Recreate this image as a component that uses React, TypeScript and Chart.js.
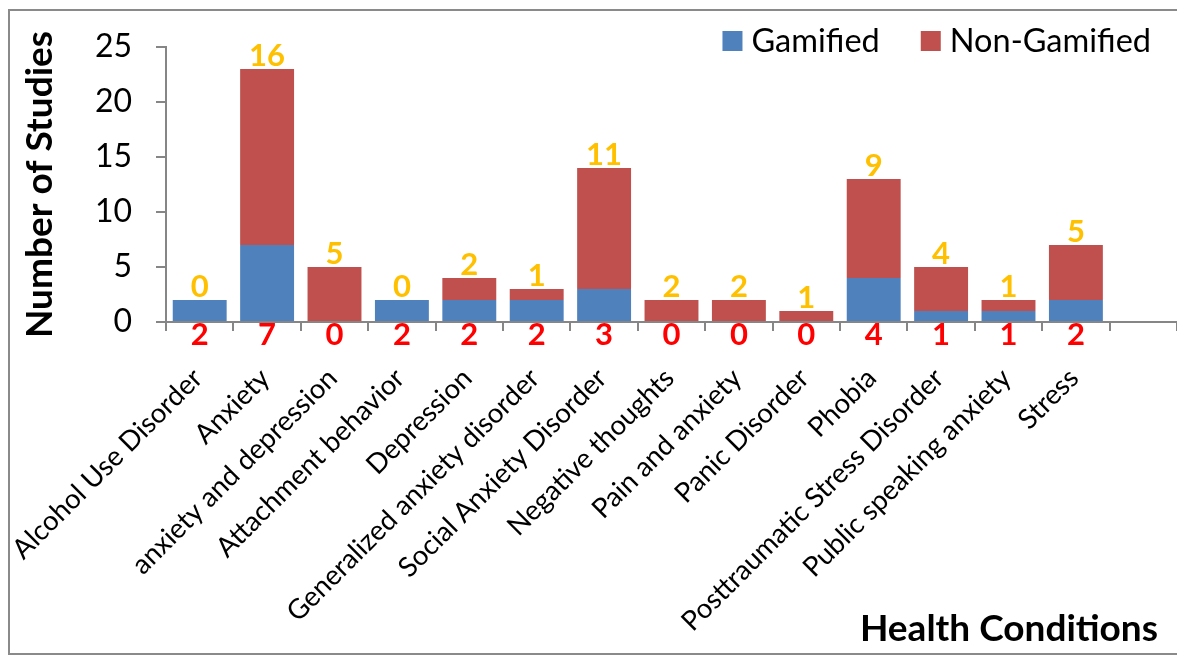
import React, { useEffect, useRef } from "react";
import { Chart, registerables } from "chart.js";

Chart.register(...registerables);

const categories: string[] = [
  "Alcohol Use Disorder",
  "Anxiety",
  "anxiety and depression",
  "Attachment behavior",
  "Depression",
  "Generalized anxiety disorder",
  "Social Anxiety Disorder",
  "Negative thoughts",
  "Pain and anxiety",
  "Panic Disorder",
  "Phobia",
  "Posttraumatic Stress Disorder",
  "Public speaking anxiety",
  "Stress",
  "",
];
const gamified: (number | null)[] = [2, 7, 0, 2, 2, 2, 3, 0, 0, 0, 4, 1, 1, 2, null];
const nonGamified: (number | null)[] = [0, 16, 5, 0, 2, 1, 11, 2, 2, 1, 9, 4, 1, 5, null];
const yTicks: number[] = [0, 5, 10, 15, 20, 25];

const seriesNames = ["Gamified", "Non-Gamified"];
const seriesColors = ["#4F81BD", "#C0504D"];
const FONT = "Lato, 'DejaVu Sans', sans-serif";
const AXIS_GRAY = "#868686";

const overlayPlugin = {
  id: "overlay",
  beforeDraw(chart: any) {
    const ctx = chart.ctx;
    ctx.save();
    ctx.fillStyle = "#ffffff";
    ctx.fillRect(0, 0, chart.width, chart.height);
    ctx.strokeStyle = "#8a8a8a";
    ctx.lineWidth = 2;
    ctx.strokeRect(9, 10, chart.width + 20, chart.height - 12);
    ctx.restore();
  },
  afterDatasetsDraw(chart: any) {
    const ctx = chart.ctx;
    const xs = chart.scales.x;
    const ys = chart.scales.y;
    ctx.save();
    ctx.font = `bold 31px ${FONT}`;
    ctx.textAlign = "center";
    ctx.textBaseline = "alphabetic";
    categories.forEach((c, i) => {
      if (!c) return;
      const g = gamified[i] ?? 0;
      const n = nonGamified[i] ?? 0;
      const cx = xs.getPixelForValue(i);
      ctx.fillStyle = "#FFC000";
      ctx.fillText(String(n), cx, ys.getPixelForValue(g + n) - 3);
      ctx.fillStyle = "#FF0000";
      ctx.fillText(String(g), cx, ys.getPixelForValue(0) + 23);
    });

    // legend (overlaid, Excel style)
    ctx.font = `32.5px ${FONT}`;
    ctx.textAlign = "left";
    ctx.textBaseline = "middle";
    const box = 20;
    const gapText = 9;
    const gapItem = 41;
    const widths = seriesNames.map((s) => ctx.measureText(s).width);
    const total = widths.reduce((a, w) => a + box + gapText + w, 0) + gapItem * (seriesNames.length - 1);
    let x = 1151 - total;
    const ly = 41;
    seriesNames.forEach((s, i) => {
      ctx.fillStyle = seriesColors[i];
      ctx.fillRect(x, ly - box / 2, box, box);
      ctx.fillStyle = "#000000";
      ctx.fillText(s, x + box + gapText, ly + 1);
      x += box + gapText + widths[i] + gapItem;
    });

    // x axis title
    ctx.font = `bold 37px ${FONT}`;
    ctx.textAlign = "right";
    ctx.textBaseline = "alphabetic";
    ctx.fillStyle = "#000000";
    ctx.fillText("Health Conditions", 1158, 641);
    ctx.restore();
  },
};

export default function App() {
  const ref = useRef<HTMLCanvasElement | null>(null);
  useEffect(() => {
    document.body.style.margin = "0";
    if (!ref.current) return;
    const chart = new Chart(ref.current, {
      type: "bar",
      data: {
        labels: categories,
        datasets: [
          {
            label: seriesNames[0],
            data: gamified,
            backgroundColor: seriesColors[0],
            categoryPercentage: 0.8,
            barPercentage: 1,
          },
          {
            label: seriesNames[1],
            data: nonGamified,
            backgroundColor: seriesColors[1],
            categoryPercentage: 0.8,
            barPercentage: 1,
          },
        ],
      },
      options: {
        responsive: false,
        animation: false,
        devicePixelRatio: 1,
        layout: { padding: { top: 47, left: 8, right: 0, bottom: 0 } },
        plugins: {
          legend: { display: false },
          tooltip: { enabled: false },
        },
        scales: {
          x: {
            stacked: true,
            afterFit: (scale: any) => {
              scale.height = 334;
              scale.paddingRight = 0;
              scale.paddingLeft = 0;
            },
            border: { display: true, color: AXIS_GRAY, width: 2 },
            grid: {
              offset: true,
              drawOnChartArea: false,
              drawTicks: true,
              tickLength: 9,
              color: AXIS_GRAY,
              lineWidth: 2,
            },
            ticks: {
              autoSkip: false,
              minRotation: 45,
              maxRotation: 45,
              padding: 31,
              labelOffset: -2,
              color: "#000000",
              font: { family: FONT, size: 27.5 },
            },
          },
          y: {
            stacked: true,
            min: 0,
            max: 25,
            afterFit: (scale: any) => {
              scale.width = 158;
            },
            afterBuildTicks: (scale: any) => {
              scale.ticks = yTicks.map((v) => ({ value: v }));
            },
            border: { display: true, color: AXIS_GRAY, width: 2 },
            grid: {
              drawOnChartArea: false,
              drawTicks: true,
              tickLength: 10,
              color: AXIS_GRAY,
              lineWidth: 2,
            },
            ticks: {
              padding: 24,
              color: "#000000",
              font: { family: FONT, size: 32 },
            },
            title: {
              display: true,
              text: "Number of Studies",
              color: "#000000",
              font: { family: FONT, size: 37, weight: "bold" },
              padding: { top: 10, bottom: 0 },
            },
          },
        },
      },
      plugins: [overlayPlugin],
    });
    return () => chart.destroy();
  }, []);
  return (
    <div style={{ width: 1177, height: 656, overflow: "hidden", position: "relative" }}>
      <canvas ref={ref} width={1177} height={656} style={{ display: "block" }} />
    </div>
  );
}
